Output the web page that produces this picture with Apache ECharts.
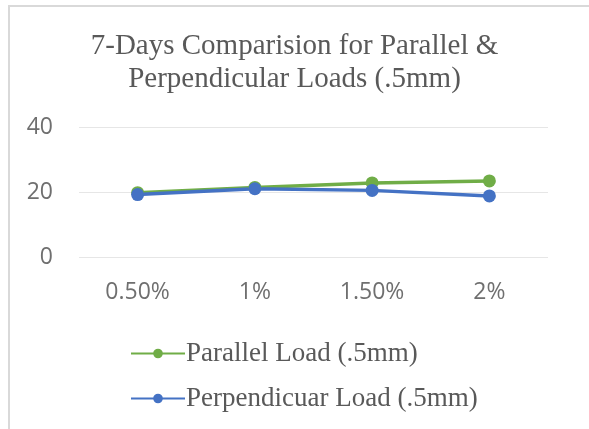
<!DOCTYPE html>
<html><head><meta charset="utf-8">
<script src="https://cdn.jsdelivr.net/npm/echarts@6/dist/echarts.min.js"></script>
<style>
html,body{margin:0;padding:0;background:#fff;}
#frame{position:absolute;left:8px;top:5px;width:600px;height:440px;border-top:2px solid #d9d9d9;border-left:2px solid #d9d9d9;}
#c{position:absolute;left:0;top:0;width:589px;height:429px;}
</style></head>
<body>
<div id="frame"></div>
<div id="c"></div>
<script>
const categories = ['0.50%', '1%', '1.50%', '2%'];
const parallelLoad = [19.8, 21.4, 22.8, 23.4];
const perpendicularLoad = [19.2, 21.0, 20.5, 18.8];
const yTicks = [0, 20, 40];

const chart = echarts.init(document.getElementById('c'));
chart.setOption({
  animation: false,
  title: {
    text: '7-Days Comparision for Parallel &\nPerpendicular Loads (.5mm)',
    left: 'center', top: 25,
    textStyle: {fontFamily: 'Liberation Serif', fontSize: 29, fontWeight: 'normal', color: '#595959', lineHeight: 33}
  },
  grid: {left: 79, right: 41, top: 127, height: 130},
  xAxis: {
    type: 'category', data: categories, boundaryGap: true,
    axisLine: {show: false}, axisTick: {show: false},
    axisLabel: {fontFamily: 'Open Sans', fontSize: 23, color: '#6f6f6f', margin: 24}
  },
  yAxis: {
    type: 'value', min: yTicks[0], max: yTicks[yTicks.length-1], interval: 20,
    axisLine: {show: false}, axisTick: {show: false},
    splitLine: {lineStyle: {color: '#e6e6e6', width: 1}},
    axisLabel: {fontFamily: 'Open Sans', fontSize: 23, color: '#6f6f6f', margin: 26}
  },
  legend: {
    orient: 'vertical', left: 125, top: 335, itemWidth: 54, itemHeight: 12, itemGap: 18,
    textStyle: {fontFamily: 'Liberation Serif', fontSize: 27, color: '#595959', padding: [0,0,0,-4]},
    data: ['Parallel Load (.5mm)', 'Perpendicuar Load (.5mm)']
  },
  series: [
    {name: 'Parallel Load (.5mm)', type: 'line', data: parallelLoad, symbol: 'circle', symbolSize: 13,
     lineStyle: {width: 3.5, color: '#70AD47'}, itemStyle: {color: '#70AD47'}},
    {name: 'Perpendicuar Load (.5mm)', type: 'line', data: perpendicularLoad, symbol: 'circle', symbolSize: 13,
     lineStyle: {width: 3.5, color: '#4472C4'}, itemStyle: {color: '#4472C4'}}
  ]
});
</script>
</body></html>
